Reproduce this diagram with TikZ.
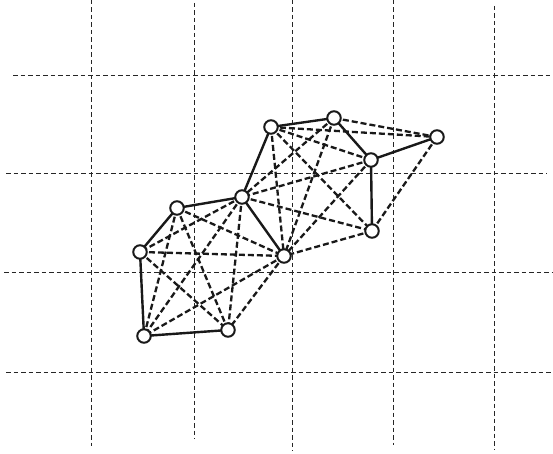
\documentclass[tikz,border=0pt]{standalone}
\usetikzlibrary{backgrounds}
\begin{document}
\begin{tikzpicture}[x=1pt,y=-1pt,
  gridline/.style={line width=0.9pt,dash pattern=on 4.5pt off 3pt,black!85},
  solidedge/.style={line width=2.4pt,black!90},
  dashedge/.style={line width=2.3pt,dash pattern=on 6pt off 3pt,black!90},
  vtx/.style={circle,draw=black!90,fill=white,line width=2pt,minimum size=13.5pt,inner sep=0pt}]
\useasboundingbox (0,0) rectangle (553,454);
% nodes
\node[vtx] (A) at (271,127) {};
\node[vtx] (B) at (334,118) {};
\node[vtx] (C) at (437,137) {};
\node[vtx] (D) at (371,160) {};
\node[vtx] (E) at (242,197) {};
\node[vtx] (F) at (177,208) {};
\node[vtx] (G) at (372,231) {};
\node[vtx] (H) at (284,256) {};
\node[vtx] (I) at (140,252) {};
\node[vtx] (J) at (228,330) {};
\node[vtx] (K) at (144,336) {};
\begin{scope}[on background layer]
% grid
\draw[gridline] (91,0) -- (91,446);
\draw[gridline] (194,3) -- (194,439);
\draw[gridline] (292,0) -- (292,451);
\draw[gridline] (393,0) -- (393,445);
\draw[gridline] (494,6) -- (494,450);
\draw[gridline] (13,75) -- (553,75);
\draw[gridline] (6,173) -- (547,173);
\draw[gridline] (4,272) -- (553,272);
\draw[gridline] (6,372) -- (553,372);
% dashed edges
\foreach \a/\b in {A/C,A/D,A/G,A/H,B/C,B/E,B/H,D/E,D/H,C/G,E/G,G/H,
                   E/I,E/K,E/J,F/H,F/J,F/K,I/H,I/J,H/K,H/J}
  \draw[dashedge] (\a.center) -- (\b.center);
% solid edges
\foreach \a/\b in {A/B,B/D,D/C,D/G,A/E,E/F,F/I,I/K,K/J,E/H}
  \draw[solidedge] (\a.center) -- (\b.center);
\end{scope}
\end{tikzpicture}
\end{document}
